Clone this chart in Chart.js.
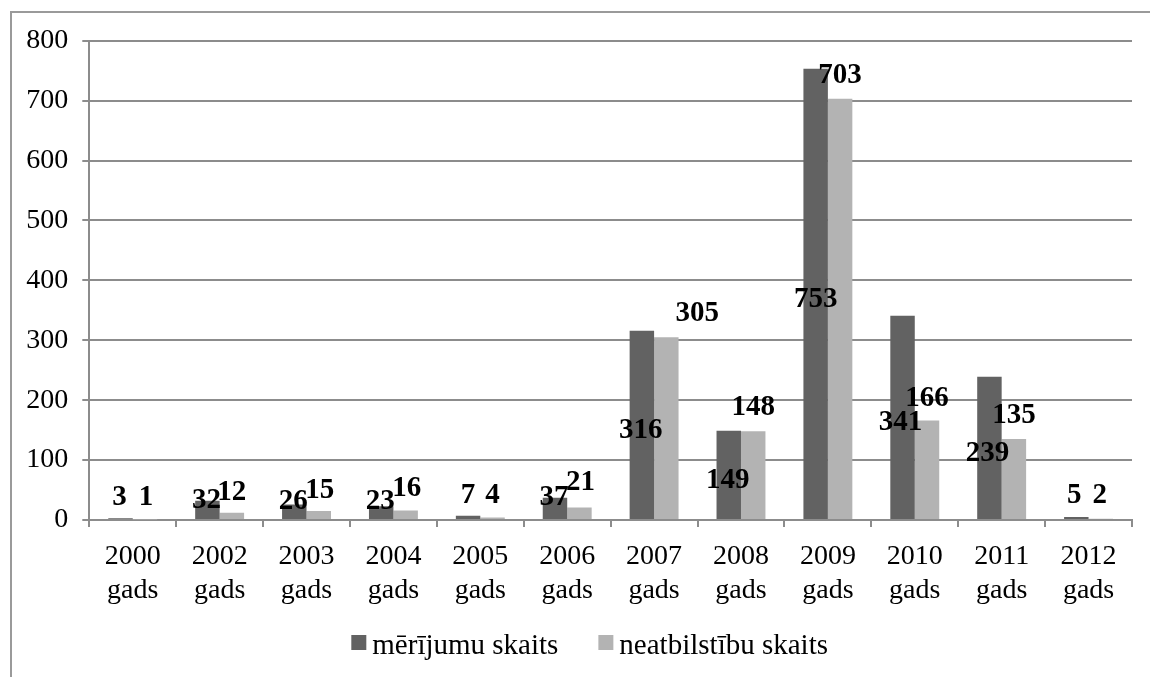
<!DOCTYPE html>
<html>
<head>
<meta charset="utf-8">
<script src="https://cdn.jsdelivr.net/npm/chart.js@4.4.1/dist/chart.umd.min.js"></script>
<style>
  html, body { margin: 0; padding: 0; background: #fff; overflow: hidden; }
  #wrap { position: relative; width: 1150px; height: 677px; overflow: hidden; }
  #frame { position: absolute; left: 10px; top: 11px; width: 1300px; height: 900px; border: 2px solid #9a9a9a; box-sizing: border-box; }
  #chart { position: absolute; left: 0; top: 0; }
</style>
</head>
<body>
<div id="wrap">
  <div id="frame"></div>
  <canvas id="chart" width="1150" height="677"></canvas>
</div>
<script>
// data
const years = ['2000', '2002', '2003', '2004', '2005', '2006', '2007', '2008', '2009', '2010', '2011', '2012'];
const merijumi = [3, 32, 26, 23, 7, 37, 316, 149, 753, 341, 239, 5];
const neatbilstibas = [1, 12, 15, 16, 4, 21, 305, 148, 703, 166, 135, 2];
const seriesNames = ['mērījumu skaits', 'neatbilstību skaits'];
const yTicks = [0, 100, 200, 300, 400, 500, 600, 700, 800];

// where the value labels sit, relative to the bar top (they were moved by hand in the original)
const labelShift = [
  { dx: [-1, -1, -1, -1, 0, -1, -1, -1, 0, -2, -2, -2], dy: [-23, -3, -5, -7, -23, -3, 97, 47, 228, 104, 74, -24] },
  { dx: [1, 0, 1, 1, 0, 1, 31, 0, 0, 0, 0, -1], dy: [-24, -23, -23, -24, -25, -27, -26, -26, -26, -25, -26, -26] }
];

const serif = '"Liberation Serif", "Times New Roman", serif';
const gridCol = '#8c8c8c';

const valueLabels = {
  id: 'valueLabels',
  afterDatasetsDraw(chart) {
    const ctx = chart.ctx;
    ctx.save();
    ctx.font = 'bold 29px ' + serif;
    ctx.fillStyle = '#000';
    ctx.textAlign = 'center';
    ctx.textBaseline = 'alphabetic';
    chart.data.datasets.forEach((ds, di) => {
      const meta = chart.getDatasetMeta(di);
      meta.data.forEach((bar, i) => {
        const x = bar.x + labelShift[di].dx[i];
        const y = bar.y + labelShift[di].dy[i] + 10;
        ctx.fillText(String(ds.data[i]), x, y);
      });
    });
    ctx.restore();
  }
};

// legend drawn by hand: square, small gap, name; the pair sits a bit left of the plot centre
const bottomLegend = {
  id: 'bottomLegend',
  afterDraw(chart) {
    const ctx = chart.ctx;
    const area = chart.chartArea;
    ctx.save();
    ctx.font = '29px ' + serif;
    ctx.textBaseline = 'alphabetic';
    ctx.textAlign = 'left';
    const box = 15, gap = 6, between = 40;
    const items = chart.data.datasets.map(ds => ({ text: ds.label, color: ds.backgroundColor, w: ctx.measureText(ds.label).width }));
    let total = 0;
    items.forEach((it, i) => { total += box + gap + it.w + (i ? between : 0); });
    let x = (area.left + area.right) / 2 - 21 - total / 2;
    const baseY = area.bottom + 134;
    items.forEach(it => {
      ctx.fillStyle = it.color;
      ctx.fillRect(x, baseY - 19, box, box);
      ctx.fillStyle = '#000';
      ctx.fillText(it.text, x + box + gap, baseY);
      x += box + gap + it.w + between;
    });
    ctx.restore();
  }
};

Chart.defaults.font.family = serif;
Chart.defaults.color = '#000';

new Chart(document.getElementById('chart').getContext('2d'), {
  type: 'bar',
  data: {
    labels: years.map(y => [y, 'gads']),
    datasets: [
      { label: seriesNames[0], data: merijumi, backgroundColor: '#626262', borderWidth: 0 },
      { label: seriesNames[1], data: neatbilstibas, backgroundColor: '#b3b3b3', borderWidth: 0 }
    ]
  },
  options: {
    responsive: false,
    animation: false,
    devicePixelRatio: 1,
    categoryPercentage: 0.563,
    barPercentage: 1,
    layout: { padding: { left: 0, right: 18, top: 40.7, bottom: 0 } },
    plugins: {
      legend: { display: false },
      tooltip: { enabled: false }
    },
    scales: {
      x: {
        afterFit(scale) { scale.height = 157; },
        grid: { drawOnChartArea: false, drawTicks: true, tickLength: 7, color: gridCol, lineWidth: 2 },
        border: { color: gridCol, width: 2 },
        ticks: { font: { size: 28, family: serif, lineHeight: 1.2 }, padding: 13, maxRotation: 0, autoSkip: false }
      },
      y: {
        min: 0,
        max: 800,
        afterFit(scale) { scale.width = 89.3; },
        afterBuildTicks(scale) { scale.ticks = yTicks.map(v => ({ value: v })); },
        grid: { color: gridCol, lineWidth: 2, tickLength: 7 },
        border: { color: gridCol, width: 2 },
        ticks: { font: { size: 28, family: serif }, padding: 14 }
      }
    }
  },
  plugins: [valueLabels, bottomLegend]
});
</script>
</body>
</html>
